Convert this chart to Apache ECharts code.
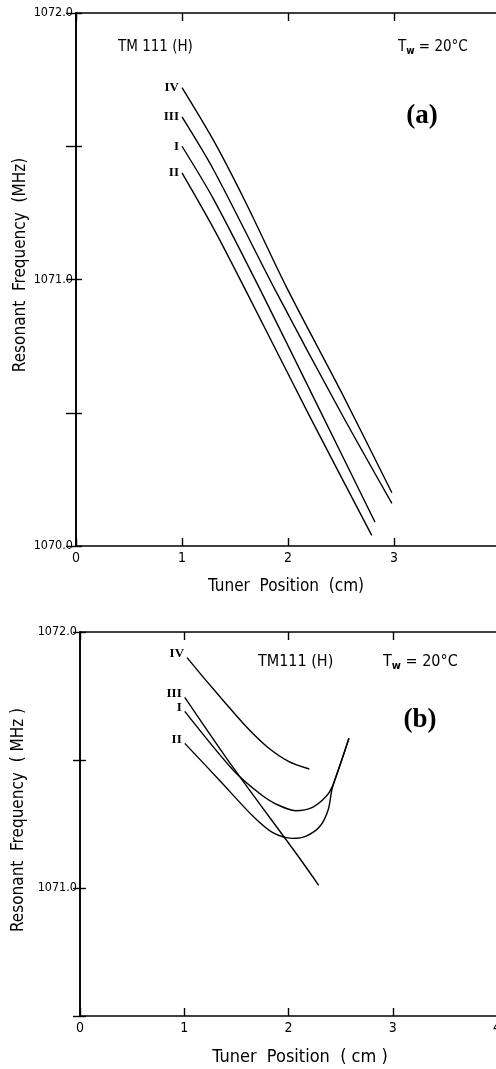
<!DOCTYPE html>
<html><head><meta charset="utf-8">
<script src="https://cdn.jsdelivr.net/npm/echarts@6/dist/echarts.min.js"></script>
<style>html,body{margin:0;padding:0;background:#fff}#c{width:496px;height:1069px}</style>
</head><body><div id="c"></div>
<script>
// ---- Data: panel (a) TM111(H), Tw = 20°C ----
const curveLabels = ['IV','III','I','II'];
const xTicks = [0,1,2,3,4];
const aIVx  = [1.0,1.3,1.6,2.0,2.5,2.98];
const aIVy  = [1071.72,1071.52,1071.29,1070.96,1070.58,1070.20];
const aIIIx = [1.0,1.3,1.88,2.5,2.98];
const aIIIy = [1071.61,1071.41,1070.96,1070.50,1070.16];
const aIx   = [1.0,1.3,1.74,2.3,2.82];
const aIy   = [1071.50,1071.30,1070.96,1070.51,1070.09];
const aIIx  = [1.0,1.3,1.6,2.2,2.79];
const aIIy  = [1071.40,1071.19,1070.96,1070.49,1070.04];
// ---- Data: panel (b) ----
const bIVx  = [1.027,1.2,1.4,1.6,1.8,2.0,2.2];
const bIVy  = [1071.90,1071.815,1071.72,1071.628,1071.55,1071.495,1071.465];
const bIIIx = [1.005,1.47,2.1,2.29];
const bIIIy = [1071.745,1071.47,1071.12,1071.01];
const bIx   = [1.005,1.47,1.72,1.88,2.07,2.23,2.36,2.42,2.50,2.58];
const bIy   = [1071.69,1071.46,1071.37,1071.328,1071.302,1071.315,1071.357,1071.396,1071.487,1071.585];
const bIIx  = [1.005,1.34,1.66,1.85,2.04,2.17,2.30,2.38,2.42,2.50,2.58];
const bIIy  = [1071.565,1071.42,1071.28,1071.216,1071.194,1071.203,1071.24,1071.305,1071.39,1071.487,1071.585];

const SANS = "'DejaVu Sans Condensed','Liberation Sans Narrow','DejaVu Sans',sans-serif";
const SERIF = "'Liberation Serif','DejaVu Serif',serif";

function mk(xs, ys, name, xi, yi, offY){
  const data = xs.map((x,i)=> i===0 ? {value:[x,ys[i]], label:{show:true, formatter:name, position:'left', distance:3, offset:[0,offY], fontFamily:SERIF, fontWeight:'bold', fontSize:13, color:'#000'}} : [x,ys[i]]);
  return {type:'line', name, xAxisIndex:xi, yAxisIndex:yi, data, smooth:0.3,
    showSymbol:true, symbol:'circle', symbolSize:0.1, itemStyle:{color:'#000'},
    lineStyle:{color:'#000', width:1.4}, label:{show:false}, silent:true, animation:false};
}

const axLine = {show:true, lineStyle:{color:'#000', width:1.6}};
function xAx(gi, pos, labels){
  return {type:'value', gridIndex:gi, position:pos, min:0, max:4, interval:1,
    axisLine:axLine, axisTick:{show:true, inside:true, length:8, lineStyle:{color:'#000', width:1.4}},
    splitLine:{show:false},
    axisLabel:{show:labels, color:'#000', fontFamily:SANS, fontSize:14, margin:5}};
}
function yAx(gi, pos, min, labels, tickLen){
  return {type:'value', gridIndex:gi, position:pos, min:min, max:1072, interval:0.5,
    axisLine:axLine, axisTick:{show:true, inside:true, length:tickLen, lineStyle:{color:'#000', width:1.4}},
    splitLine:{show:false},
    axisLabel:{show:labels, color:'#000', fontFamily:SANS, fontSize:12.5, margin:3, showMinLabel:true, showMaxLabel:true,
      formatter:v=> Math.abs(v-Math.round(v))<1e-9 ? v.toFixed(1) : ''}};
}
const minA = 1070.0, minB = 1070.5;

const chart = echarts.init(document.getElementById('c'), null, {renderer:'canvas'});
chart.setOption({
  backgroundColor:'#fff',
  animation:false,
  grid:[
    {left:76, top:13, right:-4, height:533, outerBoundsMode:'none', containLabel:false},
    {left:80, top:632, right:-1, height:384, outerBoundsMode:'none', containLabel:false}
  ],
  xAxis:[xAx(0,'bottom',true), xAx(0,'top',false), xAx(1,'bottom',true), xAx(1,'top',false)],
  yAxis:[yAx(0,'left',minA,true,6), yAx(0,'right',minA,false,10), yAx(1,'left',minB,true,6), yAx(1,'right',minB,false,7)],
  series:[
    mk(aIVx,aIVy,curveLabels[0],0,0,0),
    mk(aIIIx,aIIIy,curveLabels[1],0,0,0),
    mk(aIx,aIy,curveLabels[2],0,0,0),
    mk(aIIx,aIIy,curveLabels[3],0,0,0),
    mk(bIVx,bIVy,curveLabels[0],2,2,-4),
    mk(bIIIx,bIIIy,curveLabels[1],2,2,-4),
    mk(bIx,bIy,curveLabels[2],2,2,-4),
    mk(bIIx,bIIy,curveLabels[3],2,2,-4)
  ],
  graphic:[
    {type:'text', x:21, y:265, rotation:Math.PI/2, style:{text:'Resonant  Frequency  (MHz)', font:'17px '+SANS, fill:'#000', textAlign:'center', textVerticalAlign:'middle'}},
    {type:'text', x:286, y:587, style:{text:'Tuner  Position  (cm)', font:'17px '+SANS, fill:'#000', textAlign:'center', textVerticalAlign:'middle'}},
    {type:'text', x:118, y:47, style:{text:'TM 111 (H)', font:'15px '+SANS, fill:'#000', textAlign:'left', textVerticalAlign:'middle'}},
    {type:'text', x:398, y:47, style:{text:'{t|T}{s|w}{t| = 20°C}', fill:'#000', textAlign:'left', textVerticalAlign:'middle',
      rich:{t:{fontSize:15, fontFamily:SANS, fill:'#000'}, s:{fontSize:10, fontFamily:SANS, fontWeight:'bold', fill:'#000', padding:[8,0,0,0]}}}},
    {type:'text', x:422, y:116, style:{text:'(a)', font:'bold 27px '+SERIF, fill:'#000', textAlign:'center', textVerticalAlign:'middle'}},

    {type:'text', x:19, y:820, rotation:Math.PI/2, style:{text:'Resonant  Frequency  ( MHz )', font:'17px '+SANS, fill:'#000', textAlign:'center', textVerticalAlign:'middle'}},
    {type:'text', x:300, y:1057, style:{text:'Tuner  Position  ( cm )', font:'18px '+SANS, fill:'#000', textAlign:'center', textVerticalAlign:'middle'}},
    {type:'text', x:258, y:662, style:{text:'TM111 (H)', font:'16px '+SANS, fill:'#000', textAlign:'left', textVerticalAlign:'middle'}},
    {type:'text', x:383, y:662, style:{text:'{t|T}{s|w}{t| = 20°C}', fill:'#000', textAlign:'left', textVerticalAlign:'middle',
      rich:{t:{fontSize:16, fontFamily:SANS, fill:'#000'}, s:{fontSize:11, fontFamily:SANS, fontWeight:'bold', fill:'#000', padding:[8,0,0,0]}}}},
    {type:'text', x:420, y:720, style:{text:'(b)', font:'bold 27px '+SERIF, fill:'#000', textAlign:'center', textVerticalAlign:'middle'}}
  ]
});
</script></body></html>
